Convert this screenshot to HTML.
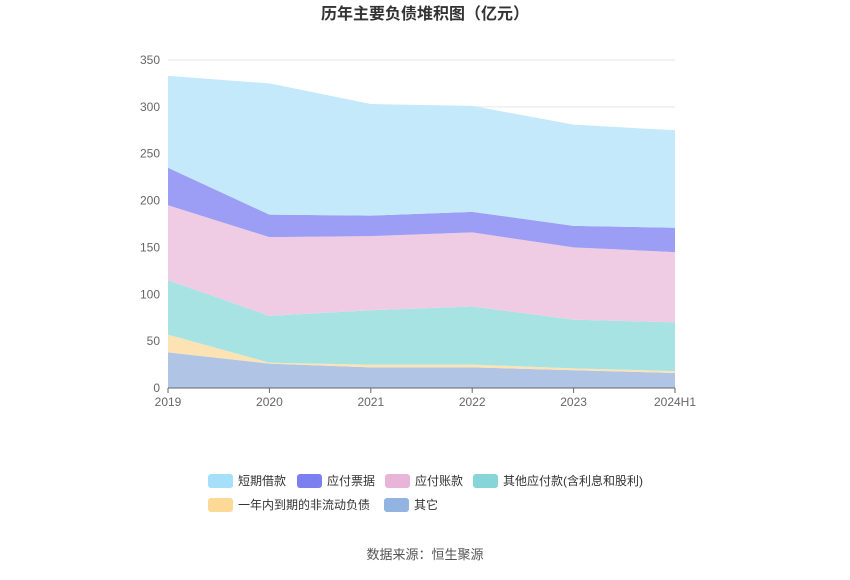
<!DOCTYPE html>
<html><head><meta charset="utf-8"><style>
body{margin:0;background:#fff;font-family:"Liberation Sans","Noto Sans CJK SC",sans-serif;}
svg text{font-family:"Liberation Sans","Noto Sans CJK SC",sans-serif;}
</style></head><body>
<svg id="c" width="850" height="575">
<text x="425" y="19" text-anchor="middle" font-size="16" font-weight="bold" fill="#333">历年主要负债堆积图（亿元）</text>
<g id="grid"></g><g id="areas"></g><g id="axes"></g><g id="legend"></g>
<text x="425" y="559" text-anchor="middle" font-size="13" fill="#555">数据来源：恒生聚源</text>
</svg>
<script>
const categories=["2019","2020","2021","2022","2023","2024H1"];
const yTicks=[0,50,100,150,200,250,300,350];
const seriesNames=["其它","一年内到期的非流动负债","其他应付款(含利息和股利)","应付账款","应付票据","短期借款"];
const other=[38,26,22,22,19,16];
const currentNonCurrent=[19,1,3,3,2,2];
const otherPayables=[58,50,58,62,52,52];
const accountsPayable=[80,84,79,79,77,75];
const notesPayable=[40,24,22,22,23,26];
const shortLoans=[98,140,119,113,108,104];
const seriesValues=[other,currentNonCurrent,otherPayables,accountsPayable,notesPayable,shortLoans];
const fills=["#b0c4e6","#fde3b3","#a8e3e3","#efcce3","#9c9ef5","#c4e9fb"];
const legendColors=["#93b3e0","#fcd996","#86d5d8","#e8b5d8","#7b7ff0","#a5dff9"];
const x0=168,x1=675,yb=388,yt=60,ymax=350;
const xs=i=>x0+i*(x1-x0)/(categories.length-1);
const ys=v=>yb-v/ymax*(yb-yt);
const NS="http://www.w3.org/2000/svg";
function mk(t,a,p){const e=document.createElementNS(NS,t);for(const k in a)e.setAttribute(k,a[k]);p.appendChild(e);return e;}
const grid=document.getElementById('grid'),axes=document.getElementById('axes'),areas=document.getElementById('areas'),leg=document.getElementById('legend');
yTicks.forEach(v=>{
 if(v>0){const l=mk('line',{x1:x0,x2:x1,y1:ys(v),y2:ys(v),stroke:'#e6e6e6'},grid);
 
 }
 const t=mk('text',{x:160,y:ys(v)+4,'text-anchor':'end','font-size':12,fill:'#666'},axes);t.textContent=v;
 
 
});
let cum=categories.map(()=>0);
seriesValues.forEach((s,k)=>{
 const low=cum.slice();cum=cum.map((c,i)=>c+s[i]);
 let d='M'+cum.map((c,i)=>xs(i)+','+ys(c)).join(' L');
 for(let i=categories.length-1;i>=0;i--)d+=' L'+xs(i)+','+ys(low[i]);
 const p=mk('path',{d:d+'Z',fill:fills[k],stroke:'none'},areas);
 
 
});
const ax=mk('line',{x1:x0,x2:x1,y1:yb,y2:yb,stroke:'#666'},axes);


categories.forEach((c,i)=>{
 mk('line',{x1:xs(i),x2:xs(i),y1:yb,y2:yb+5,stroke:'#666'},axes);
 const t=mk('text',{x:xs(i),y:406,'text-anchor':'middle','font-size':12,fill:'#666'},axes);t.textContent=c;
 
 
});
const legendOrder=[5,4,3,2,1,0];
const legPos=[[208,481],[297,481],[385,481],[473,481],[208,505],[384,505]];
legendOrder.forEach((k,j)=>{
 const [lx,ly]=legPos[j];
 const g=mk('g',{},leg);
 
 
 mk('rect',{x:lx,y:ly-7,width:25,height:14,rx:3,fill:legendColors[k]},g);
 const t=mk('text',{x:lx+30,y:ly+4,'font-size':12,fill:'#333'},g);t.textContent=seriesNames[k];
});
</script>
</body></html>
